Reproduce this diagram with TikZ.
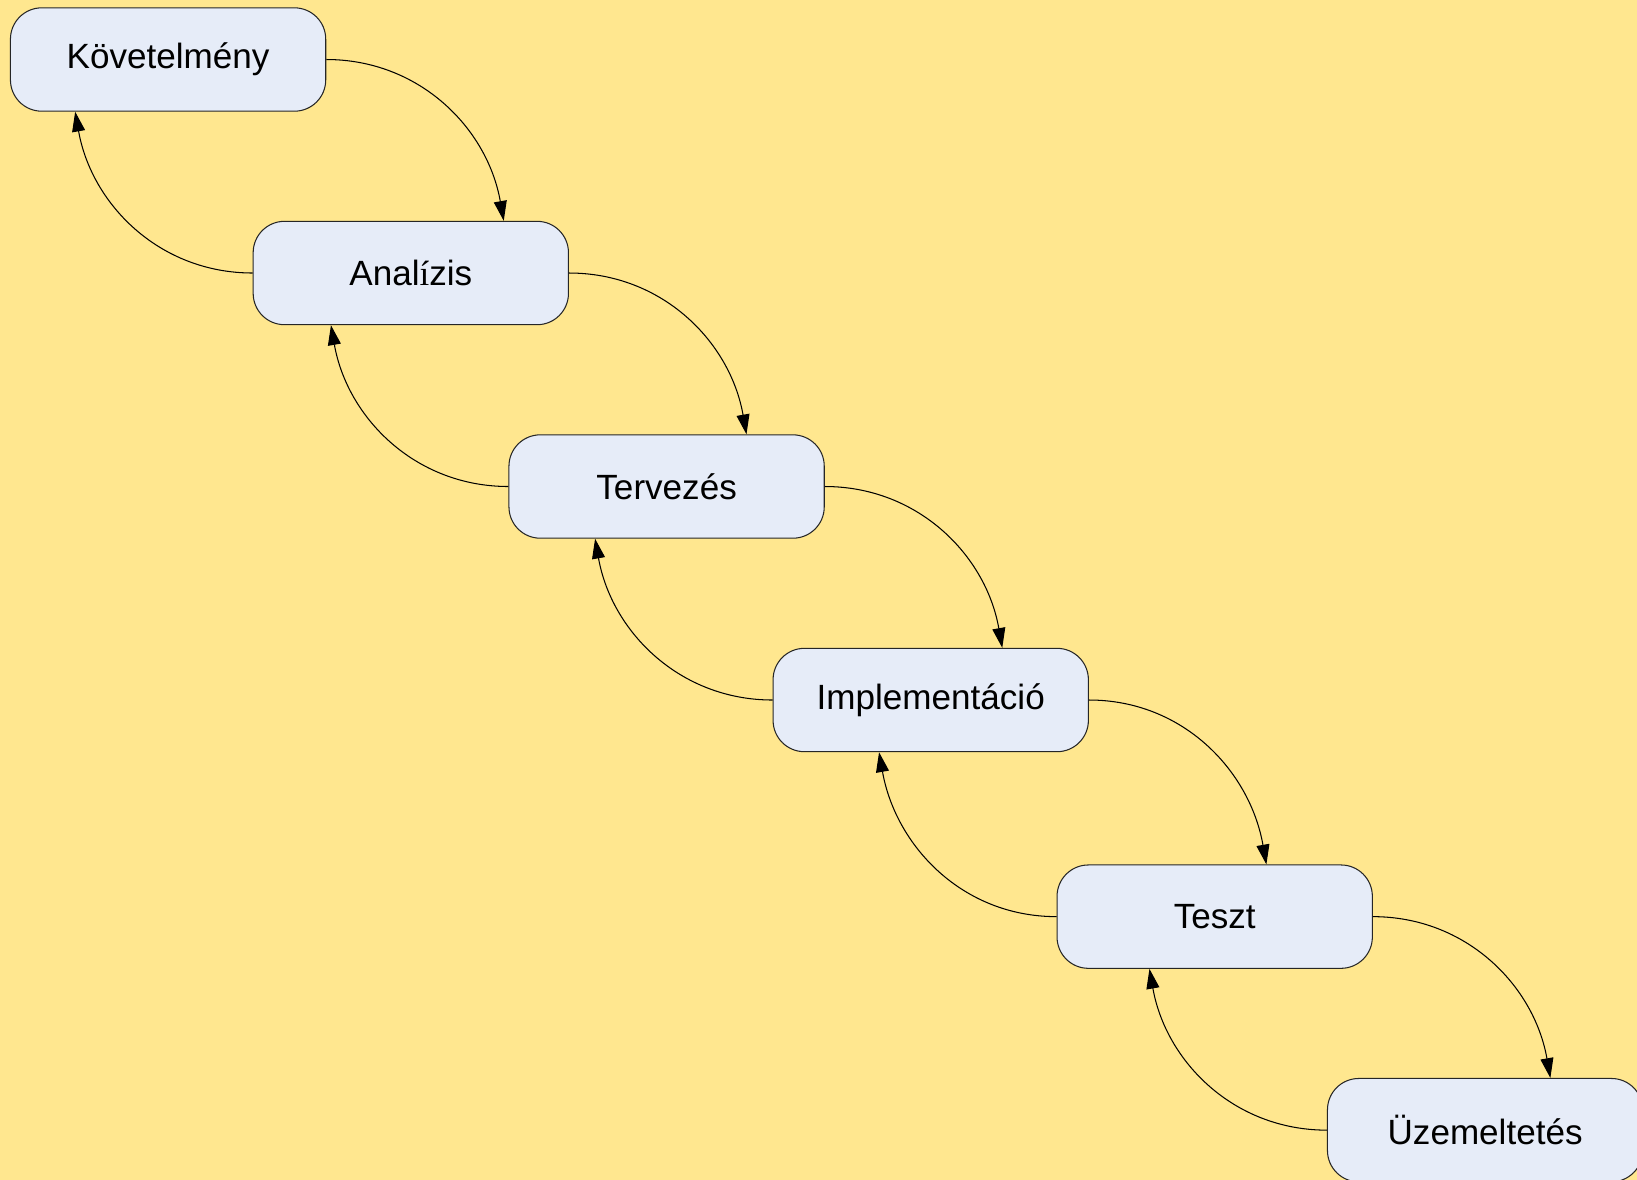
\documentclass[tikz,border=0pt]{standalone}
\usepackage{fontspec}
\setmainfont{Liberation Sans}
\newfontfamily\serifi{Liberation Serif}
\usetikzlibrary{arrows.meta}
\definecolor{bgy}{RGB}{255,231,143}
\definecolor{boxf}{RGB}{230,236,248}
\begin{document}
\begin{tikzpicture}[x=0.5pt,y=0.5pt,
 phase/.style={draw=black!85, line width=0.5pt, fill=boxf, rounded corners=15pt,
   minimum width=151pt, minimum height=49.5pt, inner sep=0pt,
   font=\fontsize{16.8}{20}\selectfont},
 flow/.style={line width=0.5pt, -{Triangle[length=9.5pt,width=6.2pt]}},
 fwd/.style={flow, out=0, in=100},
 bwd/.style={flow, out=180, in=-80}]
\useasboundingbox (0,0) rectangle (1568,-1130);
\fill[bgy] (0,0) rectangle (1568,-1130);
\begin{scope}
\clip (0,0) rectangle (1568,-1130);
\node[phase] (k) at (161,-57) {Követelmény};
\node[phase] (a) at (393.5,-261.5) {Anal{\serifi í}zis};
\node[phase] (t) at (638.5,-466) {Tervezés};
\node[phase] (i) at (891.5,-670.5) {Implementáció};
\node[phase] (s) at (1163.5,-878) {Teszt};
\node[phase] (u) at (1422.5,-1082.5) {Üzemeltetés};
% forward targets: 170px right of the source's east side
\coordinate (fk) at ([xshift=85pt]k.east);
\coordinate (fa) at ([xshift=85pt]a.east);
\coordinate (ft) at ([xshift=85pt]t.east);
\coordinate (fi) at ([xshift=85pt]i.east);
\coordinate (fs) at ([xshift=85pt]s.east);
% backward targets: 170px left of the source's west side
\coordinate (ba) at ([xshift=-85pt]a.west);
\coordinate (bt) at ([xshift=-85pt]t.west);
\coordinate (bi) at ([xshift=-85pt]i.west);
\coordinate (bs) at ([xshift=-85pt]s.west);
\coordinate (bu) at ([xshift=-85pt]u.west);
\draw[fwd] (k.east) to (fk |- a.north);
\draw[fwd] (a.east) to (fa |- t.north);
\draw[fwd] (t.east) to (ft |- i.north);
\draw[fwd] (i.east) to (fi |- s.north);
\draw[fwd] (s.east) to (fs |- u.north);
\draw[bwd] (a.west) to (ba |- k.south);
\draw[bwd] (t.west) to (bt |- a.south);
\draw[bwd] (i.west) to (bi |- t.south);
\draw[bwd] (s.west) to (bs |- i.south);
\draw[bwd] (u.west) to (bu |- s.south);
\end{scope}
\end{tikzpicture}
\end{document}
